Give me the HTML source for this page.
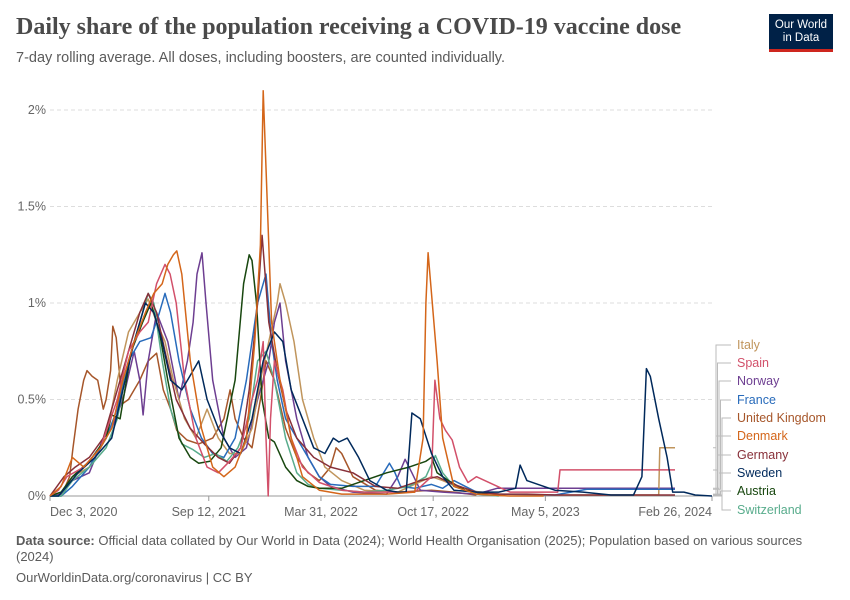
<!DOCTYPE html>
<html><head><meta charset="utf-8">
<style>
body{margin:0;background:#fff;font-family:"Liberation Sans",sans-serif;}
#wrap{position:relative;width:850px;height:600px;overflow:hidden;}
.title{position:absolute;left:16px;top:14px;font-family:"Liberation Serif",serif;font-weight:bold;font-size:24px;color:#4a4a4a;}
.sub{position:absolute;left:16px;top:50px;font-size:14.5px;color:#5b5b5b;}
.logo{position:absolute;left:769px;top:14px;width:64px;height:38px;background:#002147;border-bottom:3px solid #ce261e;color:#fff;font-size:11.5px;line-height:13px;text-align:center;padding-top:5px;box-sizing:border-box;}
.foot{position:absolute;left:16px;font-size:13px;color:#5b5b5b;}
</style></head><body>
<div id="wrap">
<div class="title">Daily share of the population receiving a COVID-19 vaccine dose</div>
<div class="sub">7-day rolling average. All doses, including boosters, are counted individually.</div>
<div class="logo">Our World<br>in Data</div>
<svg id="chart" width="850" height="600" style="position:absolute;left:0;top:0"></svg>
<div class="foot" style="top:533px;width:790px;line-height:16px"><b>Data source:</b> Official data collated by Our World in Data (2024); World Health Organisation (2025); Population based on various sources (2024)</div>
<div class="foot" style="top:570px">OurWorldinData.org/coronavirus | CC BY</div>
</div>
<script>
const yTicks=[0,0.5,1,1.5,2];
const yTickLabels=["0%","0.5%","1%","1.5%","2%"];
const xTickDays=[0,283,483,683,883,1180];
const xTickLabels=["Dec 3, 2020","Sep 12, 2021","Mar 31, 2022","Oct 17, 2022","May 5, 2023","Feb 26, 2024"];
const seriesNames=["Italy","Spain","Norway","France","United Kingdom","Denmark","Germany","Sweden","Austria","Switzerland"];
const seriesColors=["#c0955c","#d2506a","#6d3e91","#286bbb","#a6562a","#d4661a","#883039","#00295b","#18470f","#58ac8c"];

const germanyDays=[0,10,25,45,70,95,120,140,160,175,190,205,225,250,275,300,320,340,355,370,378,390,405,420,440,470,500,540,580,620,660,690,720,760,800,850,900,1000,1114];
const germanyVals=[0,0.04,0.1,0.15,0.2,0.3,0.55,0.75,0.95,1.05,0.95,0.75,0.5,0.35,0.27,0.2,0.17,0.25,0.55,1.0,1.35,0.9,0.65,0.45,0.3,0.2,0.15,0.12,0.05,0.04,0.08,0.1,0.06,0.02,0.01,0.01,0.005,0.005,0.005];
const swedenDays=[0,15,30,50,80,110,130,150,170,185,200,215,235,255,265,280,300,320,340,360,380,400,415,430,450,470,490,505,515,530,550,570,600,620,635,645,660,680,700,720,760,800,830,838,850,870,900,950,1000,1040,1055,1063,1070,1085,1100,1110,1130,1150,1180];
const swedenVals=[0,0,0.05,0.12,0.2,0.3,0.55,0.8,1.0,0.95,0.8,0.6,0.55,0.65,0.7,0.5,0.35,0.25,0.22,0.4,0.7,0.85,0.8,0.55,0.4,0.25,0.22,0.3,0.28,0.3,0.2,0.08,0.03,0.02,0.02,0.43,0.4,0.22,0.1,0.03,0.02,0.02,0.04,0.16,0.08,0.06,0.03,0.02,0.005,0.005,0.1,0.66,0.62,0.4,0.2,0.02,0.02,0.005,0];
const denmarkDays=[0,20,40,60,90,110,130,150,170,185,200,210,220,226,235,250,270,290,310,330,350,365,375,380,385,395,410,430,450,480,520,560,600,650,665,670,674,680,690,700,720,760,820,880];
const denmarkVals=[0,0.05,0.2,0.15,0.25,0.35,0.6,0.8,0.95,1.05,1.1,1.2,1.25,1.27,1.15,0.7,0.35,0.15,0.1,0.15,0.3,0.8,1.3,2.1,1.7,0.9,0.6,0.3,0.1,0.03,0.01,0.01,0.01,0.02,0.3,1.0,1.26,1.05,0.7,0.3,0.05,0.01,0,0];
const ukDays=[0,20,35,41,50,60,66,75,85,95,100,108,112,118,125,130,140,160,175,190,202,215,226,244,265,290,310,321,330,345,360,375,385,400,420,440,460,480,500,510,520,540,580,620,680,720,760];
const ukVals=[0,0,0.1,0.25,0.45,0.6,0.65,0.62,0.6,0.45,0.5,0.65,0.88,0.82,0.6,0.48,0.5,0.6,0.7,0.74,0.55,0.45,0.34,0.29,0.27,0.3,0.4,0.55,0.4,0.3,0.25,0.5,0.7,0.6,0.35,0.2,0.12,0.08,0.15,0.25,0.22,0.1,0.03,0.02,0.03,0.02,0.005];
const italyDays=[0,20,40,70,100,120,140,160,175,190,205,220,240,260,280,300,320,340,360,375,390,405,410,420,435,450,470,490,520,560,620,680,700,740,800,900,1000,1085,1087,1114];
const italyVals=[0,0.02,0.1,0.15,0.3,0.6,0.85,0.95,1.02,0.9,0.8,0.6,0.4,0.3,0.45,0.3,0.22,0.22,0.35,0.6,0.8,1.0,1.1,1.0,0.8,0.5,0.3,0.15,0.08,0.03,0.02,0.1,0.08,0.03,0.01,0.005,0.005,0.005,0.25,0.25];
const spainDays=[0,15,30,60,90,120,140,160,175,190,205,214,225,240,260,280,300,320,340,360,370,380,385,389,393,400,415,430,450,480,520,560,600,650,680,686,695,705,717,730,745,760,790,820,905,909,1114];
const spainVals=[0,0.03,0.1,0.15,0.25,0.5,0.75,0.85,0.9,1.1,1.2,1.15,1.0,0.6,0.3,0.15,0.12,0.18,0.25,0.5,0.6,0.8,0.3,0,0.4,0.7,0.55,0.3,0.15,0.07,0.03,0.02,0.02,0.02,0.1,0.6,0.4,0.34,0.29,0.15,0.07,0.1,0.06,0.02,0.02,0.135,0.135];
const norwayDays=[0,20,40,70,95,110,130,150,160,166,175,190,210,230,245,255,262,271,278,290,310,330,350,370,390,400,410,420,440,460,480,500,540,600,620,633,645,660,700,760,797,1114];
const norwayVals=[0,0.01,0.08,0.12,0.3,0.35,0.5,0.75,0.6,0.42,0.7,0.95,0.8,0.5,0.7,0.9,1.15,1.26,1.0,0.6,0.3,0.2,0.25,0.5,0.7,0.9,1.0,0.7,0.4,0.2,0.1,0.05,0.02,0.01,0.1,0.19,0.12,0.03,0.02,0.01,0.04,0.04];
const franceDays=[0,20,40,70,100,120,140,160,180,195,205,215,230,250,270,290,310,330,350,370,385,395,405,420,440,460,480,500,540,580,605,615,625,650,680,700,720,760,800,900,957,1114];
const franceVals=[0,0,0.05,0.15,0.3,0.45,0.7,0.8,0.82,0.95,1.05,0.95,0.7,0.45,0.3,0.22,0.2,0.3,0.6,1.0,1.15,0.8,0.6,0.4,0.3,0.2,0.1,0.06,0.05,0.05,0.17,0.12,0.05,0.04,0.06,0.04,0.08,0.02,0.01,0.005,0.035,0.035];
const austriaDays=[0,20,40,70,100,110,125,145,165,180,195,210,230,250,265,285,305,330,345,355,360,368,378,390,400,420,440,460,480,520,560,600,640,670,680,690,710,740,780];
const austriaVals=[0,0.02,0.1,0.18,0.3,0.42,0.4,0.75,0.9,1.0,0.85,0.6,0.3,0.2,0.17,0.18,0.25,0.6,1.1,1.25,1.22,1.0,0.5,0.3,0.28,0.15,0.08,0.05,0.04,0.04,0.08,0.12,0.15,0.18,0.2,0.12,0.08,0.03,0.01];
const switzerlandDays=[0,20,40,70,100,120,140,160,175,185,200,215,235,255,275,295,315,335,355,370,385,400,420,440,460,480,520,560,600,640,670,687,700,720,760,800];
const switzerlandVals=[0,0,0.08,0.15,0.25,0.4,0.7,0.9,1.05,1.0,0.7,0.45,0.27,0.24,0.2,0.22,0.18,0.25,0.4,0.7,0.75,0.6,0.3,0.12,0.06,0.04,0.03,0.02,0.03,0.05,0.1,0.21,0.12,0.05,0.01,0];

const allDays=[italyDays,spainDays,norwayDays,franceDays,ukDays,denmarkDays,germanyDays,swedenDays,austriaDays,switzerlandDays];
const allVals=[italyVals,spainVals,norwayVals,franceVals,ukVals,denmarkVals,germanyVals,swedenVals,austriaVals,switzerlandVals];
const drawOrder=[4,2,0,3,9,8,6,1,7,5];

const NS="http://www.w3.org/2000/svg";
const svg=document.getElementById('chart');
const X0=50,X1=712,Y0=496,Y1=110,DMAX=1180,VMAX=2;
function xs(d){return X0+d/DMAX*(X1-X0);}
function ys(v){return Y0-v/VMAX*(Y0-Y1);}
function mk(t,a){const e=document.createElementNS(NS,t);for(const k in a)e.setAttribute(k,a[k]);svg.appendChild(e);return e;}

yTicks.forEach((v,i)=>{
  if(v>0){const g=mk('line',{x1:X0,x2:X1,y1:ys(v),y2:ys(v),stroke:'#ddd','stroke-dasharray':'4,3'});
  
  }
  const t=mk('text',{x:46,y:ys(v)+4,'text-anchor':'end','font-size':'12.5','fill':'#666','font-family':'Liberation Sans, sans-serif'});
  t.textContent=yTickLabels[i];
  
  
});
const ax=mk('line',{x1:X0,x2:X1,y1:Y0,y2:Y0,stroke:'#999'});


xTickDays.forEach((d,i)=>{
  const tk=mk('line',{x1:xs(d),x2:xs(d),y1:Y0,y2:Y0+5,stroke:'#999'});
  
  
  const anchor=i==0?'start':(i==xTickDays.length-1?'end':'middle');
  const t=mk('text',{x:xs(d),y:Y0+20,'text-anchor':anchor,'font-size':'12.5','fill':'#666','font-family':'Liberation Sans, sans-serif'});
  t.textContent=xTickLabels[i];
  
  
});
drawOrder.forEach(i=>{
  const d=allDays[i],v=allVals[i];
  const pts=d.map((dd,j)=>xs(dd).toFixed(1)+','+ys(v[j]).toFixed(1)).join(' ');
  const p=mk('polyline',{points:pts,fill:'none',stroke:seriesColors[i],'stroke-width':'1.5','stroke-linejoin':'round'});
  
  
});
const labelY=[345,363,381,400,418,436,455,473,491,510];
seriesNames.forEach((n,i)=>{
  const ly=labelY[i];
  const endV=allVals[i][allVals[i].length-1];
  const sy=ys(endV);
  const bx=716+(i%5)*1.5;
  const c=mk('polyline',{points:`${X1+1},${sy} ${bx},${sy} ${bx},${ly} 731,${ly}`,fill:'none',stroke:'#bbb','stroke-width':'1'});
  
  
  const t=mk('text',{x:737,y:ly+4,'font-size':'12.5','fill':seriesColors[i],'font-family':'Liberation Sans, sans-serif'});
  t.textContent=n;
  
  
});
</script>
</body></html>
